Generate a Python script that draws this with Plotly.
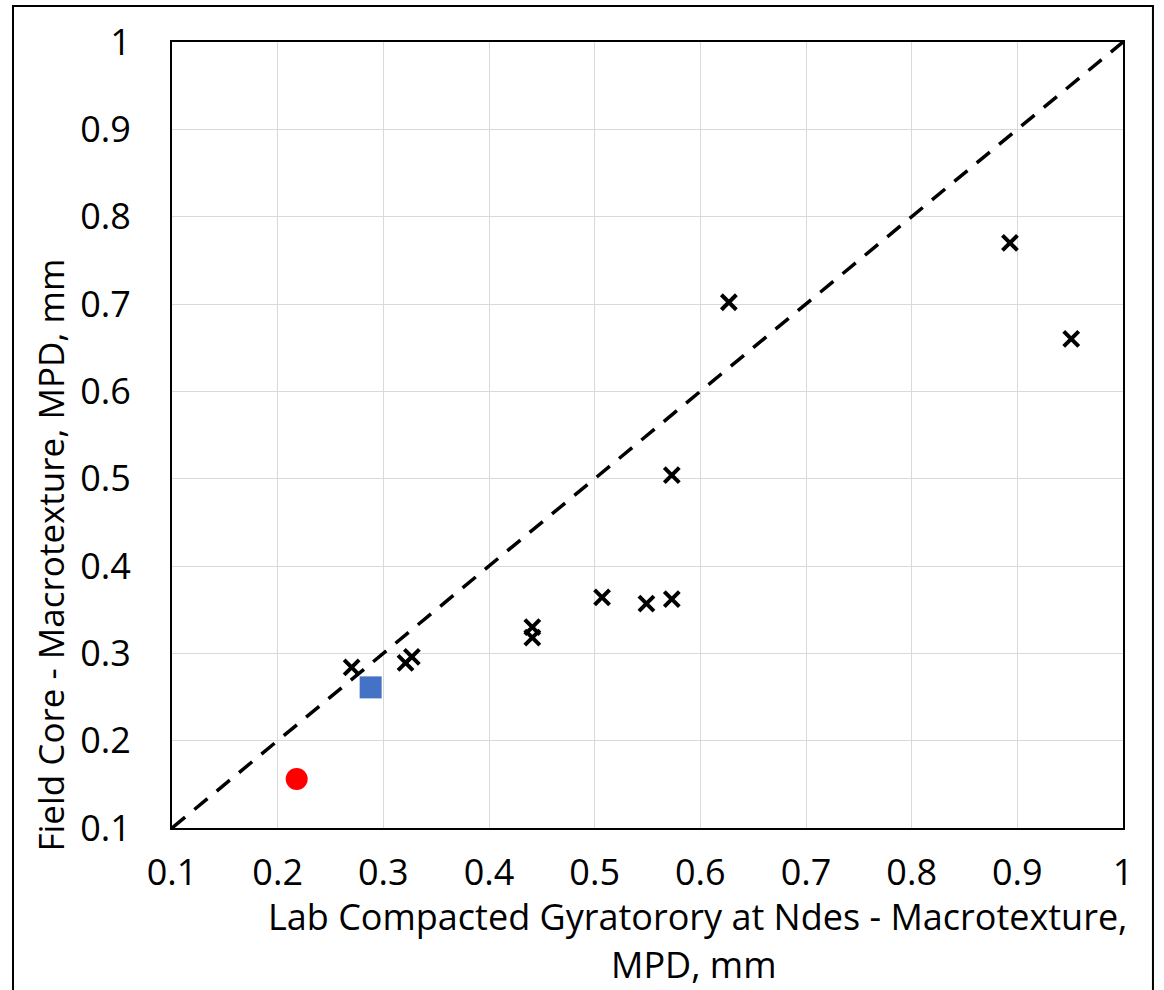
import plotly.graph_objects as go

# Lab-compacted (x) vs field-core (y) macrotexture, MPD in mm
lab_mpd = [0.270, 0.321, 0.327, 0.441, 0.441, 0.507, 0.549, 0.573, 0.573, 0.627, 0.893, 0.951]
field_mpd = [0.284, 0.289, 0.296, 0.318, 0.330, 0.364, 0.357, 0.362, 0.504, 0.702, 0.770, 0.660]

square_lab = [0.288]
square_field = [0.261]

circle_lab = [0.218]
circle_field = [0.156]

equality_line = [0.1, 1.0]
tick_vals = [0.1, 0.2, 0.3, 0.4, 0.5, 0.6, 0.7, 0.8, 0.9, 1.0]
tick_text = ["0.1", "0.2", "0.3", "0.4", "0.5", "0.6", "0.7", "0.8", "0.9", "1"]

FONT = "Century Gothic, Open Sans, sans-serif"

fig = go.Figure()

# line of equality
fig.add_trace(go.Scatter(
    x=equality_line, y=equality_line, mode="lines",
    line=dict(color="black", width=3.5, dash="17px,12px"),
    showlegend=False, hoverinfo="skip",
))

fig.add_trace(go.Scatter(
    x=lab_mpd, y=field_mpd, mode="markers",
    marker=dict(symbol="x-thin", size=15, line=dict(color="black", width=4)),
    showlegend=False,
))

fig.add_trace(go.Scatter(
    x=square_lab, y=square_field, mode="markers",
    marker=dict(symbol="square", size=22, color="#4472C4"),
    showlegend=False,
))

fig.add_trace(go.Scatter(
    x=circle_lab, y=circle_field, mode="markers",
    marker=dict(symbol="circle", size=22, color="#FF0000"),
    showlegend=False,
))

axis_common = dict(
    range=[0.1, 1.0],
    tickvals=tick_vals,
    ticktext=tick_text,
    showgrid=True,
    gridcolor="#D9D9D9",
    gridwidth=1,
    zeroline=False,
    showline=True,
    linecolor="black",
    linewidth=2,
    mirror=True,
    ticks="",
    tickfont=dict(family=FONT, size=36, color="black"),
)

fig.update_xaxes(**axis_common, ticklabelstandoff=12)
fig.update_yaxes(**axis_common, ticklabelstandoff=32)

x_title_lines = ["Lab Compacted Gyratorory at Ndes - Macrotexture,", "MPD, mm"]

fig.update_layout(
    width=1164,
    height=990,
    margin=dict(l=172, r=41, t=42, b=162),
    paper_bgcolor="white",
    plot_bgcolor="white",
    font=dict(family=FONT, color="black"),
    annotations=[
        dict(
            text=x_title_lines[0],
            xref="paper", yref="paper", x=0.553, y=-0.1125,
            xanchor="center", yanchor="middle", showarrow=False,
            font=dict(family=FONT, size=36, color="black"),
        ),
        dict(
            text=x_title_lines[1],
            xref="paper", yref="paper", x=0.548, y=-0.1735,
            xanchor="center", yanchor="middle", showarrow=False,
            font=dict(family=FONT, size=36, color="black"),
        ),
        dict(
            text="Field Core - Macrotexture, MPD, mm",
            xref="paper", yref="paper", x=-0.128, y=0.347,
            xanchor="center", yanchor="middle", textangle=-90, showarrow=False,
            font=dict(family=FONT, size=35, color="black"),
        ),
    ],
    shapes=[
        dict(
            type="rect", xref="paper", yref="paper",
            x0=-0.1672, x1=1.0315, y0=-0.22, y1=1.0458,
            line=dict(color="black", width=2), fillcolor="rgba(0,0,0,0)",
            layer="below",
        ),
    ],
)

fig.write_html("out.html")
